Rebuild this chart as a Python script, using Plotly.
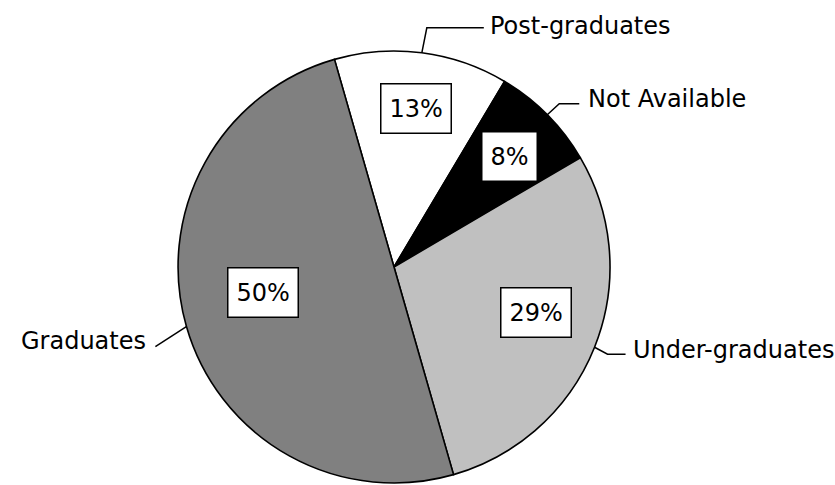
import math
import plotly.graph_objects as go

# Share of respondents by education level
categories = ["Post-graduates", "Not Available", "Under-graduates", "Graduates"]
shares = [13, 8, 29, 50]
colors = ["#ffffff", "#000000", "#c0c0c0", "#808080"]

W, H = 835, 485
CX, CY, R = 394, 267, 216          # pie centre and radius in pixels
ROTATION = -16                      # start angle of the first slice (clockwise from 12 o'clock)

FONT = "DejaVu Sans"

# label box placement: fraction of radius and small angular nudge per slice
BOX_STYLE = {
    "Post-graduates": (0.74, 0.5),
    "Not Available": (0.74, 1.0),
    "Under-graduates": (0.69, -4.0),
    "Graduates": (0.62, 5.0),
}
# leader lines: elbow offset from rim point, horizontal run, text gap, text side
LEADERS = {
    "Post-graduates": ((5, -25), 57, 4, "left", -2),
    "Not Available": ((12, -11), 20, 7, "left", -5),
    "Under-graduates": ((13, 7), 18, 5, "left", -4),
    "Graduates": ((-31, 20), 0, 7, "right", -6),
}


def px(x):
    return x / W


def py(y):
    return 1 - y / H


def polar(angle_deg, r):
    a = math.radians(angle_deg)
    return CX + r * math.sin(a), CY - r * math.cos(a)


fig = go.Figure(
    go.Pie(
        labels=categories,
        values=shares,
        sort=False,
        direction="clockwise",
        rotation=ROTATION,
        marker=dict(colors=colors, line=dict(color="#000000", width=1.6)),
        textinfo="none",
        hoverinfo="label+percent",
        domain=dict(x=[px(CX - R), px(CX + R)], y=[py(CY + R), py(CY - R)]),
    )
)

total = sum(shares)
cum = 0
shapes, annotations = [], []
for name, v in zip(categories, shares):
    mid = ROTATION + (cum + v / 2) / total * 360
    cum += v

    # boxed percentage label
    frac, nudge = BOX_STYLE[name]
    bx, by = polar(mid + nudge, R * frac)
    annotations.append(dict(
        x=px(bx), y=py(by), xref="paper", yref="paper",
        text=f"{round(v / total * 100)}%", showarrow=False,
        font=dict(family=FONT, size=24, color="#000000"),
        bgcolor="#ffffff", bordercolor="#000000", borderwidth=1.5,
        borderpad=8, height=32,
        xanchor="center", yanchor="middle",
    ))

    # leader line from the rim to the category name
    (ex, ey), run, gap, side, dy = LEADERS[name]
    rx, ry = polar(mid, R)
    x1, y1 = rx + ex, ry + ey
    x2 = x1 + (run if side == "left" else -run)
    path = f"M {px(rx)} {py(ry)} L {px(x1)} {py(y1)} L {px(x2)} {py(y1)}"
    shapes.append(dict(type="path", path=path, xref="paper", yref="paper",
                       line=dict(color="#000000", width=1.5)))
    tx = x2 + gap if side == "left" else x2 - gap
    annotations.append(dict(
        x=px(tx), y=py(y1 + dy), xref="paper", yref="paper",
        text=name, showarrow=False,
        font=dict(family=FONT, size=24, color="#000000"),
        xanchor=side, yanchor="middle",
    ))

fig.update_layout(
    width=W, height=H,
    margin=dict(l=0, r=0, t=0, b=0),
    paper_bgcolor="#ffffff",
    plot_bgcolor="#ffffff",
    showlegend=False,
    shapes=shapes,
    annotations=annotations,
)

fig.write_html("out.html")
